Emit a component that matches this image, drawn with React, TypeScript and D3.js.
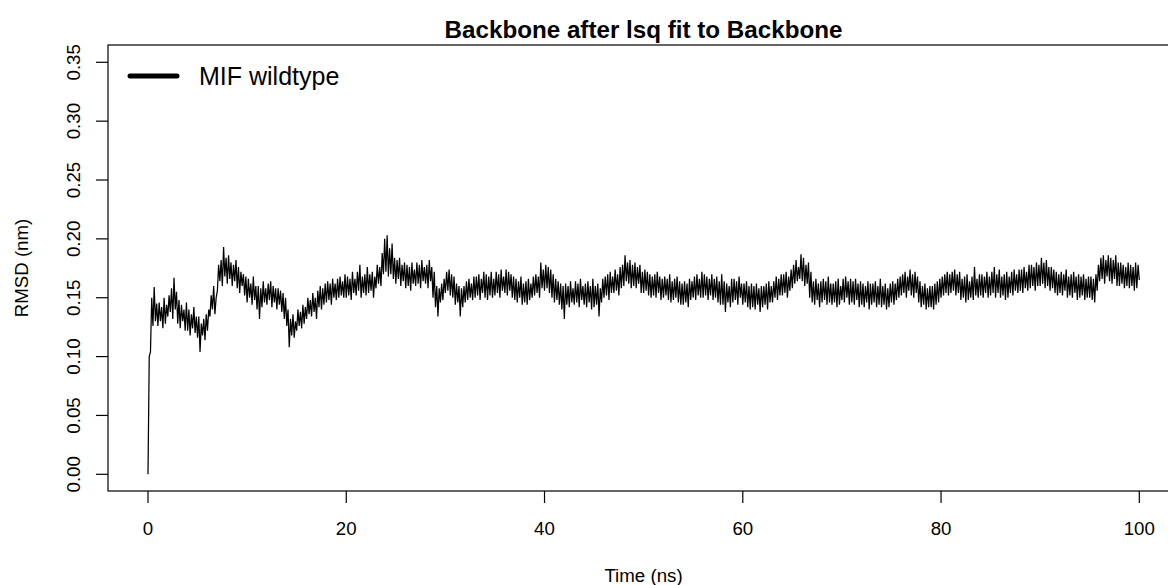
import React from "react";
import * as d3 from "d3";

// rmsdLow: the lower swings, at t = 0, 0.25, 0.5, ... 100 ns
// rmsdHigh: the upper swings, at t = 0.125, 0.375, ... 99.875 ns
const timeStep = 0.25;
const rmsdLow: number[] = [
  0, 104, 126, 130,
  126, 130, 124, 128,
  134, 138, 132, 140,
  128, 124, 130, 122,
  122, 118, 124, 120,
  116, 104, 118, 114,
  122, 134, 140, 136,
  156, 164, 160, 168,
  162, 166, 160, 164,
  158, 154, 160, 152,
  146, 150, 144, 148,
  140, 132, 142, 146,
  144, 148, 142, 146,
  140, 144, 138, 132,
  126, 108, 118, 116,
  122, 126, 124, 128,
  132, 136, 134, 138,
  132, 142, 140, 144,
  146, 148, 144, 150,
  148, 150, 152, 150,
  150, 152, 148, 154,
  152, 156, 150, 154,
  152, 154, 156, 150,
  158, 162, 160, 170,
  172, 168, 170, 166,
  162, 166, 160, 164,
  158, 160, 156, 162,
  160, 162, 158, 164,
  162, 158, 164, 150,
  142, 134, 146, 148,
  154, 156, 152, 150,
  144, 146, 134, 142,
  146, 148, 150, 148,
  150, 152, 148, 154,
  150, 148, 152, 150,
  152, 154, 150, 156,
  154, 152, 156, 150,
  148, 146, 150, 144,
  146, 144, 148, 150,
  152, 154, 150, 158,
  156, 158, 154, 150,
  146, 148, 144, 140,
  132, 144, 142, 146,
  144, 146, 142, 148,
  144, 142, 146, 140,
  142, 144, 134, 146,
  150, 152, 148, 154,
  154, 156, 152, 158,
  160, 164, 162, 158,
  160, 158, 162, 154,
  154, 156, 152, 150,
  152, 150, 154, 148,
  150, 152, 148, 146,
  148, 150, 146, 144,
  144, 146, 142, 148,
  150, 148, 152, 150,
  150, 152, 148, 152,
  148, 150, 146, 144,
  144, 138, 146, 142,
  146, 148, 144, 150,
  144, 146, 142, 140,
  142, 140, 144, 138,
  142, 144, 140, 146,
  146, 150, 148, 152,
  152, 154, 150, 156,
  158, 162, 164, 166,
  164, 160, 162, 150,
  146, 144, 148, 142,
  146, 148, 144, 146,
  144, 146, 142, 144,
  148, 146, 150, 144,
  146, 144, 148, 142,
  144, 142, 146, 140,
  144, 146, 142, 144,
  142, 144, 140, 142,
  146, 144, 148, 150,
  152, 154, 150, 156,
  152, 150, 154, 146,
  142, 144, 140, 142,
  142, 140, 144, 146,
  150, 152, 154, 152,
  154, 156, 152, 154,
  148, 150, 146, 148,
  150, 148, 152, 150,
  152, 150, 154, 150,
  152, 154, 150, 154,
  150, 152, 148, 150,
  154, 152, 156, 154,
  156, 154, 158, 156,
  158, 160, 156, 160,
  160, 162, 158, 160,
  156, 158, 154, 152,
  154, 152, 156, 150,
  152, 150, 154, 148,
  150, 152, 148, 150,
  150, 148, 146, 156,
  164, 166, 162, 168,
  164, 162, 166, 160,
  160, 162, 158, 160,
  158, 160, 156, 158,
  165,
];
const rmsdHigh: number[] = [
  100, 150, 159, 145,
  146, 142, 150, 144,
  152, 158, 167, 155,
  148, 144, 140, 146,
  140, 136, 142, 134,
  134, 128, 132, 136,
  140, 152, 160, 150,
  178, 182, 193, 184,
  186, 180, 178, 182,
  176, 172, 170, 168,
  166, 162, 168, 160,
  160, 158, 164, 158,
  162, 164, 160, 158,
  158, 156, 154, 150,
  140, 132, 136, 130,
  140, 138, 144, 142,
  150, 148, 154, 150,
  156, 160, 158, 162,
  164, 162, 166, 162,
  166, 168, 164, 170,
  168, 166, 172, 166,
  172, 178, 168, 170,
  176, 170, 172, 168,
  178, 176, 188, 200,
  203, 192, 196, 184,
  182, 184, 178, 180,
  178, 176, 180, 174,
  180, 178, 182, 176,
  178, 182, 176, 172,
  160, 158, 162, 166,
  172, 174, 170, 168,
  162, 160, 158, 160,
  164, 166, 162, 168,
  168, 170, 166, 172,
  170, 168, 172, 166,
  172, 170, 174, 168,
  174, 172, 170, 168,
  166, 164, 168, 162,
  164, 166, 162, 168,
  170, 168, 180, 174,
  178, 176, 174, 170,
  166, 164, 162, 160,
  162, 160, 164, 158,
  164, 162, 166, 160,
  162, 164, 160, 166,
  160, 162, 158, 166,
  168, 170, 172, 168,
  174, 170, 176, 178,
  186, 180, 182, 178,
  180, 176, 178, 172,
  174, 172, 170, 168,
  170, 172, 168, 166,
  168, 166, 170, 164,
  166, 168, 164, 162,
  164, 162, 166, 164,
  168, 170, 166, 172,
  170, 168, 166, 170,
  166, 168, 164, 170,
  164, 162, 160, 166,
  166, 164, 168, 162,
  162, 164, 160, 162,
  160, 162, 158, 160,
  160, 162, 164, 160,
  164, 168, 166, 170,
  170, 172, 168, 174,
  178, 182, 176, 187,
  184, 178, 180, 172,
  164, 166, 162, 164,
  166, 164, 168, 162,
  162, 164, 166, 160,
  166, 168, 164, 166,
  164, 166, 162, 164,
  162, 160, 164, 162,
  162, 164, 160, 166,
  160, 162, 158, 162,
  164, 162, 166, 168,
  170, 172, 168, 174,
  170, 172, 168, 164,
  160, 162, 158, 160,
  160, 162, 164, 166,
  168, 170, 172, 170,
  172, 174, 170, 172,
  166, 168, 170, 164,
  168, 176, 166, 170,
  170, 168, 172, 168,
  172, 176, 170, 174,
  168, 170, 172, 168,
  172, 174, 170, 174,
  174, 176, 172, 178,
  178, 176, 180, 178,
  184, 180, 182, 176,
  176, 174, 172, 170,
  172, 170, 174, 168,
  170, 172, 168, 170,
  168, 170, 166, 168,
  168, 166, 170, 178,
  184, 186, 182, 186,
  184, 182, 186, 180,
  180, 178, 176, 180,
  178, 176, 180, 178,
];

const xTicks = [0, 20, 40, 60, 80, 100];
const yTicks = [0, 0.05, 0.1, 0.15, 0.2, 0.25, 0.3, 0.35];
const seriesName = "MIF wildtype";
const titleText = "Backbone after lsq fit to Backbone";
const xLabel = "Time (ns)";
const yLabel = "RMSD (nm)";

const W = 1168;
const H = 585;
const box = { left: 108, right: 1179, top: 45, bottom: 491 };
const centerX = (box.left + box.right) / 2;
const FONT = "'Liberation Sans', Arial, Helvetica, sans-serif";

type Pt = { t: number; r: number };

export default function App() {
  const x = d3.scaleLinear().domain([0, 100]).range([148, 1139.3]);
  const y = d3.scaleLinear().domain([0, 0.35]).range([474.3, 62.3]);
  const data: Pt[] = [];
  rmsdLow.forEach((v, i) => {
    data.push({ t: i * timeStep, r: v / 1000 });
    if (i < rmsdHigh.length) {
      data.push({ t: i * timeStep + timeStep / 2, r: rmsdHigh[i] / 1000 });
    }
  });
  const line = d3
    .line<Pt>()
    .x((d) => x(d.t))
    .y((d) => y(d.r));

  return (
    <svg
      width={W}
      height={H}
      style={{ position: "absolute", left: 0, top: 0, background: "#fff" }}
      fontFamily={FONT}
    >
      <rect x={0} y={0} width={W} height={H} fill="#fff" />
      <path d={line(data) || ""} fill="none" stroke="#000" strokeWidth={1.25} strokeLinejoin="miter" />
      <rect
        x={box.left}
        y={box.top}
        width={box.right - box.left}
        height={box.bottom - box.top}
        fill="none"
        stroke="#000"
        strokeWidth={1.2}
      />
      {xTicks.map((t) => (
        <g key={"x" + t}>
          <line x1={x(t)} x2={x(t)} y1={box.bottom} y2={box.bottom + 12} stroke="#000" strokeWidth={1.2} />
          <text x={x(t)} y={535} textAnchor="middle" fontSize={18.7} fill="#000">
            {t}
          </text>
        </g>
      ))}
      {yTicks.map((t) => (
        <g key={"y" + t}>
          <line x1={box.left - 12} x2={box.left} y1={y(t)} y2={y(t)} stroke="#000" strokeWidth={1.2} />
          <text
            transform={`translate(80,${y(t)}) rotate(-90)`}
            textAnchor="middle"
            fontSize={18.7}
            fill="#000"
          >
            {t.toFixed(2)}
          </text>
        </g>
      ))}
      <text x={centerX} y={38} textAnchor="middle" fontSize={24.2} fontWeight="bold" fill="#000">
        {titleText}
      </text>
      <text x={centerX} y={582} textAnchor="middle" fontSize={18.7} fill="#000">
        {xLabel}
      </text>
      <text
        transform={`translate(28,${(box.top + box.bottom) / 2}) rotate(-90)`}
        textAnchor="middle"
        fontSize={18.7}
        fill="#000"
      >
        {yLabel}
      </text>
      <line x1={130} x2={177} y1={76} y2={76} stroke="#000" strokeWidth={5} strokeLinecap="round" />
      <text x={199} y={85} fontSize={25} fill="#000">
        {seriesName}
      </text>
    </svg>
  );
}
